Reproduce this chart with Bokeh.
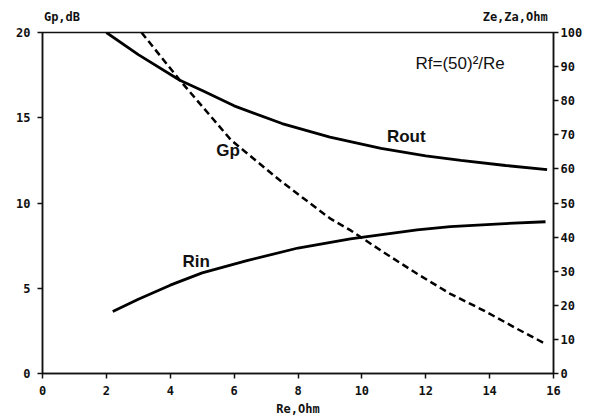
from bokeh.plotting import figure
from bokeh.models import Range1d, LinearAxis, FixedTicker, Label
from bokeh.embed import file_html
from bokeh.resources import INLINE

# Data
re_out = [2.0, 3.0, 4.3, 5.0, 6.0, 7.5, 9.0, 10.6, 12.0, 13.1, 14.5, 15.8]
rout = [100, 93.5, 86, 83, 78.5, 73.3, 69.3, 66, 63.8, 62.5, 61.0, 59.8]

re_in = [2.2, 3.0, 4.0, 5.0, 6.4, 8.0, 9.64, 11.73, 12.77, 14.34, 15.75]
rin = [18.2, 21.8, 25.9, 29.5, 33.1, 36.8, 39.5, 42.1, 43.1, 43.9, 44.5]

re_gp = [3.1, 4.3, 4.94, 5.9, 7.45, 9.0, 9.65, 10.68, 11.73, 12.77, 13.82, 14.86, 15.75]
gp = [20, 17.2, 15.8, 13.7, 11.3, 9.1, 8.39, 7.11, 5.85, 4.67, 3.69, 2.62, 1.74]

x_ticks = [0, 2, 4, 6, 8, 10, 12, 14, 16]
left_ticks = [0, 5, 10, 15, 20]
right_ticks = [0, 10, 20, 30, 40, 50, 60, 70, 80, 90, 100]

left_title = "Gp,dB"
right_title = "Ze,Za,Ohm"
x_title = "Re,Ohm"

MONO = "DejaVu Sans Mono"
SANS = "Liberation Sans"

p = figure(width=595, height=419, output_backend="svg", toolbar_location=None,
           x_range=Range1d(0, 16), y_range=Range1d(0, 20),
           min_border_left=42, min_border_right=42, min_border_top=32, min_border_bottom=46)
p.extra_y_ranges = {"ohm": Range1d(0, 100)}
p.xgrid.visible = False
p.ygrid.visible = False
p.background_fill_color = "white"
p.border_fill_color = "white"
p.outline_line_color = "#111111"
p.outline_line_width = 1.5

bottom = p.below[0]
left = p.left[0]
right = LinearAxis(y_range_name="ohm")
p.add_layout(right, "right")

# header texts carried by an unadorned axis above the frame
top = LinearAxis(ticker=FixedTicker(ticks=[0.61, 14.8], minor_ticks=[]),
                 major_label_overrides={0.61: left_title, 14.8: right_title})
top.axis_line_color = None
top.major_tick_line_color = None
top.minor_tick_line_color = None
top.major_tick_out = 0
top.major_tick_in = 0
top.major_label_standoff = 9
top.major_label_text_font = MONO
top.major_label_text_font_style = "bold"
top.major_label_text_font_size = "12px"
top.major_label_text_color = "#111111"
p.add_layout(top, "above")

bottom.ticker = FixedTicker(ticks=x_ticks, minor_ticks=[])
left.ticker = FixedTicker(ticks=left_ticks, minor_ticks=[])
right.ticker = FixedTicker(ticks=right_ticks, minor_ticks=[])

for ax in [bottom, left, right]:
    ax.major_tick_out = 5
    ax.major_tick_in = 0
    ax.minor_tick_line_color = None
    ax.axis_line_color = "#111111"
    ax.axis_line_width = 1.5
    ax.major_tick_line_color = "#111111"
    ax.major_tick_line_width = 1.5
    ax.major_label_text_font = MONO
    ax.major_label_text_font_style = "bold"
    ax.major_label_text_font_size = "12px"
    ax.major_label_text_color = "#111111"
bottom.major_label_standoff = 7
left.major_label_standoff = 7
right.major_label_standoff = 2

bottom.axis_label = x_title
bottom.axis_label_standoff = 4
bottom.axis_label_text_font = MONO
bottom.axis_label_text_font_style = "bold"
bottom.axis_label_text_font_size = "12px"
bottom.axis_label_text_color = "#111111"

p.line(re_out, rout, y_range_name="ohm", line_color="black", line_width=2.8)
p.line(re_in, rin, y_range_name="ohm", line_color="black", line_width=2.8)
p.line(re_gp, gp, line_color="black", line_width=2.5, line_dash="7 4")

def lab(x, y, t, size, style="bold", align="center"):
    p.add_layout(Label(x=x, y=y, text=t, text_font=SANS, text_font_size=size,
                       text_font_style=style, text_align=align, text_baseline="middle",
                       text_color="#111111"))

lab(11.39, 13.9, "Rout", "17px")
lab(5.81, 13.08, "Gp", "17px")
lab(4.81, 6.57, "Rin", "17px")
lab(11.68, 18.2, "Rf=(50)²/Re", "17px", "normal", "left")

open("out.html", "w").write(file_html(p, INLINE))
